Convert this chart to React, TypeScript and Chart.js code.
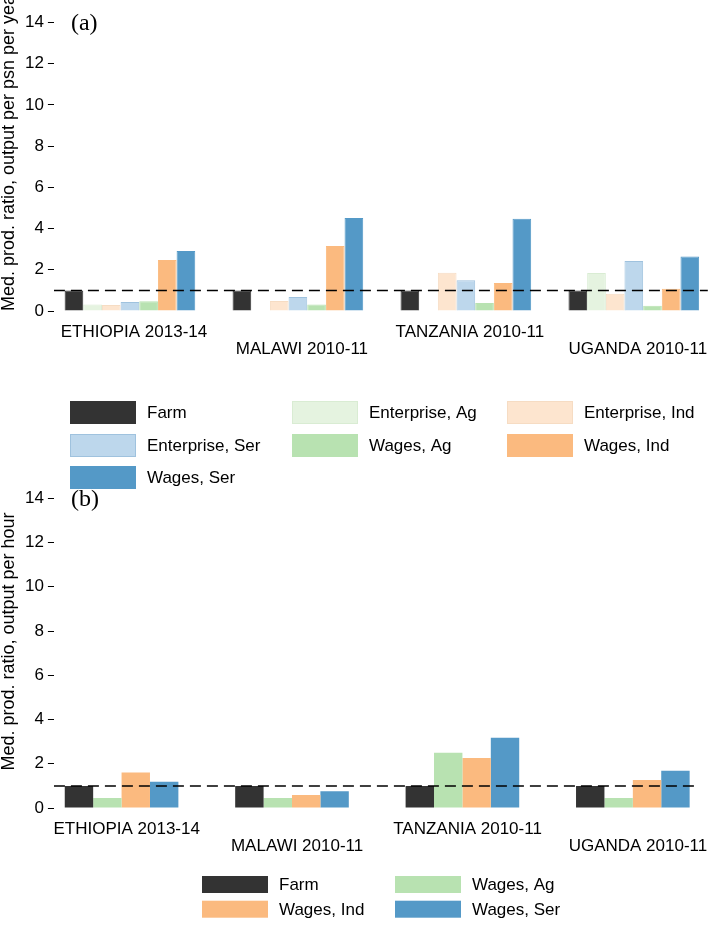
import React, { useEffect, useRef } from 'react';
import { Chart, registerables } from 'chart.js';

Chart.register(...registerables);

// ---------- data ----------
const countries = ['ETHIOPIA 2013-14', 'MALAWI 2010-11', 'TANZANIA 2010-11', 'UGANDA 2010-11'];
const yTickValues = [0, 2, 4, 6, 8, 10, 12, 14];
const referenceLevel = 1;

// Panel (a): output per person per year
const seriesNamesA = ['Farm', 'Enterprise, Ag', 'Enterprise, Ind', 'Enterprise, Ser', 'Wages, Ag', 'Wages, Ind', 'Wages, Ser'];
const farmA = [1.0, 1.0, 1.0, 1.0];
const entAgA = [0.32, null, null, 1.84];
const entIndA = [0.29, 0.49, 1.86, 0.84];
const entSerA = [0.44, 0.68, 1.49, 2.43];
const wagesAgA = [0.47, 0.32, 0.39, 0.26];
const wagesIndA = [2.48, 3.16, 1.36, 1.08];
const wagesSerA = [2.91, 4.51, 4.48, 2.65];

// Panel (b): output per hour
const seriesNamesB = ['Farm', 'Wages, Ag', 'Wages, Ind', 'Wages, Ser'];
const farmB = [1.0, 1.0, 1.0, 1.0];
const wagesAgB = [0.45, 0.45, 2.5, 0.45];
const wagesIndB = [1.6, 0.59, 2.26, 1.27];
const wagesSerB = [1.19, 0.76, 3.18, 1.68];

// ---------- styles ----------
const colorsA = ['#333333', '#e5f3e0', '#fde5cf', '#bdd7ec', '#b8e2b1', '#fbba7f', '#5499c7'];
const bordersA = ['#333333', '#d9ecd3', '#f6dcc3', '#9fc2de', '#b8e2b1', '#fbba7f', '#5499c7'];
const colorsB = ['#333333', '#b8e2b1', '#fbba7f', '#5499c7'];

const FONT = 'Liberation Sans';

// ---------- plugins ----------
const gridLegend = {
  id: 'gridLegend',
  afterDraw(chart: any, _args: any, opts: any) {
    const ctx = chart.ctx;
    const items = chart.data.datasets.filter((d: any) => d.type !== 'line');
    ctx.save();
    ctx.font = `${opts.fontSize}px ${FONT}`;
    ctx.textBaseline = 'middle';
    ctx.textAlign = 'left';
    items.forEach((d: any, i: number) => {
      const col = i % opts.cols.length;
      const row = Math.floor(i / opts.cols.length);
      const x = opts.cols[col];
      const y = opts.rows[row];
      ctx.fillStyle = d.backgroundColor;
      ctx.fillRect(x, y, opts.boxW, opts.boxH);
      if (d.borderWidth) {
        ctx.strokeStyle = d.borderColor;
        ctx.lineWidth = 1;
        ctx.strokeRect(x + 0.5, y + 0.5, opts.boxW - 1, opts.boxH - 1);
      }
      ctx.fillStyle = '#000';
      ctx.fillText(d.label, x + opts.boxW + opts.gap, y + opts.boxH / 2 + 1);
    });
    ctx.restore();
  },
};

const panelText = {
  id: 'panelText',
  afterDraw(chart: any, _args: any, opts: any) {
    const ctx = chart.ctx;
    const ys = chart.scales.y;
    ctx.save();
    ctx.font = `24px "Liberation Serif"`;
    ctx.fillStyle = '#000';
    ctx.textBaseline = 'middle';
    ctx.textAlign = 'left';
    ctx.fillText(opts.tag, chart.chartArea.left + 17, ys.getPixelForValue(14) + 1);
    ctx.font = `18px ${FONT}`;
    ctx.translate(opts.titleX, opts.titleY);
    ctx.rotate(-Math.PI / 2);
    ctx.textAlign = 'center';
    ctx.fillText(opts.title, 0, 0);
    ctx.restore();
  },
};

// ---------- config builder ----------
function buildConfig(p: any) {
  const barSets = p.series.map((vals: (number | null)[], k: number) => ({
    type: 'bar',
    label: p.names[k],
    data: vals.map((v, i) => ({ x: i, y: v })),
    backgroundColor: p.colors[k],
    borderColor: p.borders ? p.borders[k] : p.colors[k],
    borderWidth: p.borders ? 1 : 0,
    categoryPercentage: p.catPct,
    barPercentage: 1,
    grouped: true,
  }));
  const refLine = {
    type: 'line',
    label: 'ref',
    data: [
      { x: p.xMin, y: referenceLevel },
      { x: p.xMax, y: referenceLevel },
    ],
    borderColor: '#000',
    borderWidth: 1.5,
    borderDash: [11, 6],
    pointRadius: 0,
    order: -1,
  };
  return {
    type: 'bar',
    data: { datasets: [...barSets, refLine] },
    options: {
      animation: false,
      responsive: false,
      maintainAspectRatio: false,
      layout: { padding: p.padding },
      plugins: {
        legend: { display: false },
        tooltip: { enabled: false },
        gridLegend: p.legend,
        panelText: { tag: p.tag, title: p.title, titleX: p.titleX, titleY: p.titleY },
      },
      scales: {
        x: {
          type: 'linear',
          offset: false,
          bounds: 'data',
          min: p.xMin,
          max: p.xMax,
          afterBuildTicks: (axis: any) => {
            axis.ticks = countries.map((_, i) => ({ value: i + p.labelShift }));
          },
          ticks: {
            autoSkip: false,
            maxRotation: 0,
            minRotation: 0,
            padding: 13,
            color: '#000',
            font: { family: FONT, size: 17, lineHeight: 1.0 },
            callback: (_v: any, i: number) => (i % 2 === 1 ? ['', countries[i]] : countries[i]),
          },
          grid: { display: false, drawTicks: false },
          border: { display: false },
        },
        y: {
          min: 0,
          max: 14,
          afterBuildTicks: (axis: any) => {
            axis.ticks = yTickValues.map((v) => ({ value: v }));
          },
          ticks: {
            padding: 4,
            color: '#000',
            font: { family: FONT, size: 17 },
          },
          grid: { drawOnChartArea: false, drawTicks: true, tickLength: 6, color: '#000', lineWidth: 1 },
          border: { display: false },
        },
      },
    },
    plugins: [gridLegend, panelText],
  };
}

function Panel({ top, height, config }: { top: number; height: number; config: any }) {
  const ref = useRef<HTMLCanvasElement | null>(null);
  useEffect(() => {
    if (!ref.current) return;
    const chart = new Chart(ref.current, config);
    return () => chart.destroy();
  }, [config]);
  return (
    <canvas
      ref={ref}
      width={721}
      height={height}
      style={{ position: 'absolute', left: 0, top, width: 721, height, display: 'block' }}
    />
  );
}

const configA = buildConfig({
  names: seriesNamesA,
  series: [farmA, entAgA, entIndA, entSerA, wagesAgA, wagesIndA, wagesSerA],
  colors: colorsA,
  borders: bordersA,
  catPct: 7 / 9,
  xMin: -0.4527,
  xMax: 3.441,
  labelShift: 0.024,
  padding: { left: 21, right: 8, top: 22.5, bottom: 124 },
  tag: '(a)',
  title: 'Med. prod. ratio, output per psn per year',
  titleX: 9,
  titleY: 150,
  legend: { cols: [70, 292, 507], rows: [401, 434, 466], boxW: 66, boxH: 23, gap: 11, fontSize: 17 },
});

const configB = buildConfig({
  names: seriesNamesB,
  series: [farmB, wagesAgB, wagesIndB, wagesSerB],
  colors: colorsB,
  borders: null,
  catPct: 4 / 6,
  xMin: -0.397,
  xMax: 3.389,
  labelShift: 0.03,
  padding: { left: 21, right: 8, top: 20.3, bottom: 58 },
  tag: '(b)',
  title: 'Med. prod. ratio, output per hour',
  titleX: 9,
  titleY: 163.5,
  legend: { cols: [202, 395], rows: [398, 422.7], boxW: 66, boxH: 17, gap: 11, fontSize: 17 },
});

export default function App() {
  return (
    <div style={{ position: 'absolute', left: 0, top: 0, width: 721, height: 926, background: '#fff', overflow: 'hidden' }}>
      <Panel top={0} height={495} config={configA} />
      <Panel top={478} height={448} config={configB} />
    </div>
  );
}
